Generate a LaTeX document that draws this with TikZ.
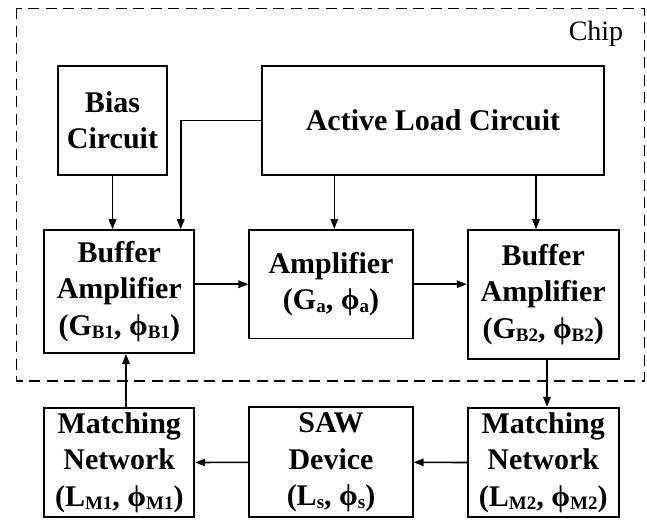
\documentclass[tikz,border=0pt]{standalone}
\usepackage{fontspec}
\setmainfont{Liberation Serif}
\usetikzlibrary{arrows.meta}
% lowered subscript used in the gain/phase labels
\newcommand\lsub[1]{\raisebox{-3pt}{\fontsize{19}{19}\selectfont #1}}
\tikzset{
  blk/.style={draw, line width=1.8pt, align=center, inner sep=0pt,
              font=\bfseries\fontsize{30}{36.5}\selectfont},
  arr/.style={line width=1.6pt, -{Triangle[length=10pt,width=7.5pt]}},
  chipframe/.style={line width=1.6pt, dash pattern=on 11pt off 6.5pt}
}
\begin{document}
\begin{tikzpicture}[x=1pt,y=-1pt]
\useasboundingbox (0,0) rectangle (647,519);
% on-chip boundary
\draw[chipframe] (16.5,8.5) rectangle (644.5,380.7);
\node[font=\fontsize{28}{28}\selectfont] (chip) at (596,34) {Chip};

% blocks
\node[blk, minimum width=109pt, minimum height=109pt] (bias) at (112.5,120.5) {Bias\\Circuit};
\node[blk, minimum width=342pt, minimum height=109pt] (load) at (433,120.5) {Active Load Circuit};
\node[blk, minimum width=150pt, minimum height=123pt] (buf1) at (119.3,291.6) {Buffer\\Amplifier\\(G\lsub{B1}, ϕ\lsub{B1})};
\node[blk, minimum width=163.5pt, minimum height=108.5pt] (amp) at (331,284.2) {Amplifier\\(G\lsub{a}, ϕ\lsub{a})};
\node[blk, minimum width=151pt, minimum height=129pt] (buf2) at (543.2,294.6) {Buffer\\Amplifier\\(G\lsub{B2}, ϕ\lsub{B2})};
\node[blk, minimum width=150pt, minimum height=109.5pt] (mat1) at (119.3,462.5) {Matching\\Network\\(L\lsub{M1}, ϕ\lsub{M1})};
\node[blk, minimum width=163.5pt, minimum height=110pt] (saw) at (331,462.3) {SAW\\Device\\(L\lsub{s}, ϕ\lsub{s})};
\node[blk, minimum width=151pt, minimum height=109.5pt] (mat2) at (543.2,462.5) {Matching\\Network\\(L\lsub{M2}, ϕ\lsub{M2})};

% tap positions of the vertical links
\coordinate (tapA) at (180.7,0);
\coordinate (tapB) at (334.3,0);
\coordinate (tapC) at (536,0);
\coordinate (tapD) at (547,0);
\coordinate (tapE) at (126,0);

% connections
\draw[arr] (bias.south) -- (bias.south |- buf1.north);
\draw[arr] (load.west) -| (buf1.north -| tapA);
\draw[arr] (load.south -| tapB) -- (amp.north -| tapB);
\draw[arr] (load.south -| tapC) -- (buf2.north -| tapC);
\draw[arr] (buf1.east |- amp.west) -- (amp.west);
\draw[arr] (amp.east) -- (amp.east -| buf2.west);
\draw[arr] (buf2.south -| tapD) -- (mat2.north -| tapD);
\draw[arr] (mat2.west) -- (saw.east);
\draw[arr] (saw.west) -- (mat1.east);
\draw[arr] (mat1.north -| tapE) -- (buf1.south -| tapE);
\end{tikzpicture}
\end{document}
